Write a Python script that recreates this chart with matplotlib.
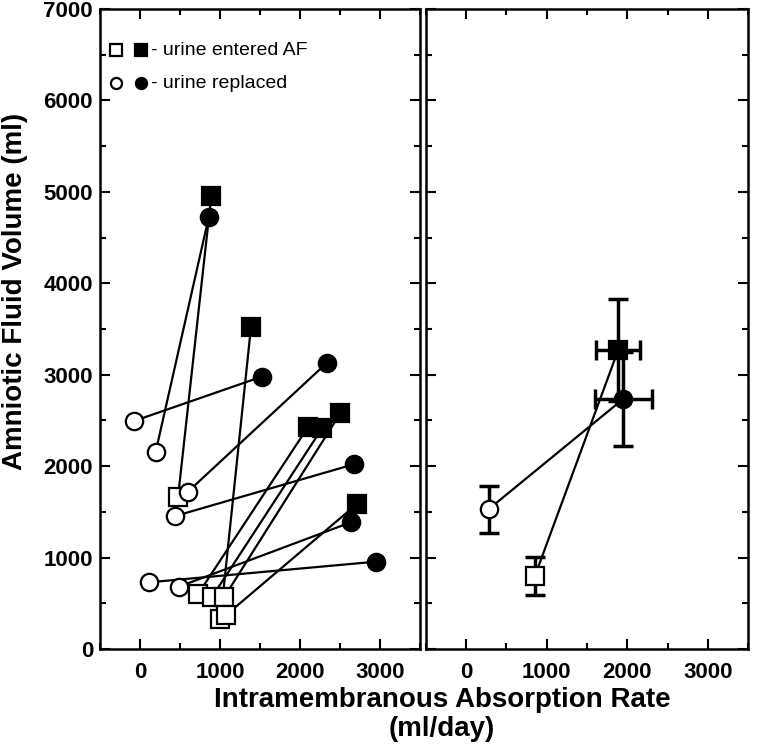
import matplotlib
matplotlib.use("Agg")
from matplotlib import pyplot as plt
from matplotlib.ticker import MultipleLocator

# individual experiments (left panel), open = before, filled = after
sq_open_x = [476, 1006, 724, 903, 1056, 1077]
sq_open_y = [1667, 328, 598, 572, 572, 372]
sq_fill_x = [891, 1387, 2104, 2277, 2505, 2712]
sq_fill_y = [4956, 3519, 2433, 2415, 2579, 1586]

ci_open_x = [195, -70, 600, 443, 488, 116]
ci_open_y = [2152, 2495, 1721, 1455, 682, 730]
ci_fill_x = [861, 1524, 2340, 2671, 2637, 2948]
ci_fill_y = [4730, 2979, 3133, 2020, 1386, 955]

# group means (right panel)
m_sq_x = [853, 1888]
m_sq_y = [799, 3271]
m_sq_xerr = [0, 270]
m_sq_yerr = [210, 558]
m_ci_x = [277, 1950]
m_ci_y = [1528, 2735]
m_ci_xerr = [0, 355]
m_ci_yerr = [255, 514]

plt.rcParams['font.family'] = ['Liberation Sans', 'DejaVu Sans']

fig = plt.figure(figsize=(7.63, 7.47), dpi=100)
ax1 = fig.add_axes([100/763, 1-649/747, 320/763, 640/747])
ax2 = fig.add_axes([426/763, 1-649/747, 322/763, 640/747])

ms = 12.5
mew = 1.6
lw = 1.6

for i in range(len(sq_open_x)):
    ax1.plot([sq_open_x[i], sq_fill_x[i]], [sq_open_y[i], sq_fill_y[i]], 'k-', lw=lw, zorder=1)
for i in range(len(ci_open_x)):
    ax1.plot([ci_open_x[i], ci_fill_x[i]], [ci_open_y[i], ci_fill_y[i]], 'k-', lw=lw, zorder=1)

ax1.plot(sq_open_x, sq_open_y, 's', ms=ms, mfc='white', mec='black', mew=mew, ls='none', zorder=3)
ax1.plot(sq_fill_x, sq_fill_y, 's', ms=ms, mfc='black', mec='black', mew=mew, ls='none', zorder=3)
ax1.plot(ci_open_x, ci_open_y, 'o', ms=ms, mfc='white', mec='black', mew=mew, ls='none', zorder=3)
ax1.plot(ci_fill_x, ci_fill_y, 'o', ms=ms, mfc='black', mec='black', mew=mew, ls='none', zorder=3)

# legend drawn by hand
ax1.plot([-300], [6550], 's', ms=8, mfc='white', mec='black', mew=1.6)
ax1.plot([10], [6550], 's', ms=8, mfc='black', mec='black', mew=1.6)
ax1.plot([-300], [6190], 'o', ms=8, mfc='white', mec='black', mew=1.6)
ax1.plot([10], [6190], 'o', ms=8, mfc='black', mec='black', mew=1.6)
ax1.text(140, 6550, '- urine entered AF', fontsize=14, va='center', ha='left')
ax1.text(140, 6190, '- urine replaced', fontsize=14, va='center', ha='left')

# right panel
ax2.plot(m_sq_x, m_sq_y, 'k-', lw=lw, zorder=1)
ax2.plot(m_ci_x, m_ci_y, 'k-', lw=lw, zorder=1)
ekw = dict(ecolor='black', elinewidth=2.5, capsize=7, capthick=2.5, ls='none', zorder=2)
ax2.errorbar(m_sq_x[1:], m_sq_y[1:], xerr=m_sq_xerr[1:], yerr=m_sq_yerr[1:], **ekw)
ax2.errorbar(m_ci_x[1:], m_ci_y[1:], xerr=m_ci_xerr[1:], yerr=m_ci_yerr[1:], **ekw)
ax2.errorbar(m_sq_x[:1], m_sq_y[:1], yerr=m_sq_yerr[:1], **ekw)
ax2.errorbar(m_ci_x[:1], m_ci_y[:1], yerr=m_ci_yerr[:1], **ekw)
ax2.plot(m_sq_x[:1], m_sq_y[:1], 's', ms=ms, mfc='white', mec='black', mew=mew, zorder=3)
ax2.plot(m_sq_x[1:], m_sq_y[1:], 's', ms=ms, mfc='black', mec='black', mew=mew, zorder=3)
ax2.plot(m_ci_x[:1], m_ci_y[:1], 'o', ms=ms, mfc='white', mec='black', mew=mew, zorder=3)
ax2.plot(m_ci_x[1:], m_ci_y[1:], 'o', ms=ms, mfc='black', mec='black', mew=mew, zorder=3)

for ax in (ax1, ax2):
    ax.set_xlim(-500, 3500)
    ax.set_ylim(0, 7000)
    ax.xaxis.set_major_locator(MultipleLocator(1000))
    ax.xaxis.set_minor_locator(MultipleLocator(500))
    ax.yaxis.set_major_locator(MultipleLocator(1000))
    ax.yaxis.set_minor_locator(MultipleLocator(500))
    ax.tick_params(which='both', direction='in', top=True, right=True, width=1.5)
    ax.tick_params(which='major', length=7)
    ax.tick_params(which='minor', length=4)
    ax.tick_params(labelsize=16)
    ax.tick_params(axis='x', pad=9)
    ax.tick_params(axis='y', pad=5)
    for s in ax.spines.values():
        s.set_linewidth(1.8)
    for lab in ax.get_xticklabels() + ax.get_yticklabels():
        lab.set_fontweight('bold')

ax2.set_yticklabels([])

fig.text(15/763, 1-291/747, 'Amniotic Fluid Volume (ml)', fontsize=20, fontweight='bold',
         rotation=90, ha='center', va='center')
fig.text(442/763, 1-700/747, 'Intramembranous Absorption Rate', fontsize=20,
         fontweight='bold', ha='center', va='center')
fig.text(442/763, 1-729/747, '(ml/day)', fontsize=20, fontweight='bold',
         ha='center', va='center')

fig.savefig('out.png', dpi=100)
